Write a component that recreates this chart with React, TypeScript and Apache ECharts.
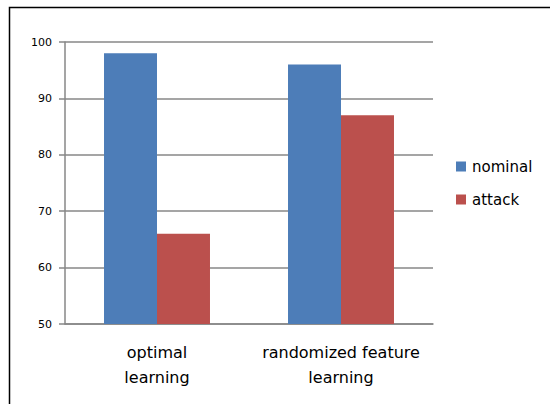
import React, { useEffect, useRef } from "react";
import * as echarts from "echarts";

const categories = ["optimal\nlearning", "randomized feature\nlearning"];
const nominal = [98, 96];
const attack = [66, 87];
const seriesNames = ["nominal", "attack"];

export default function App() {
  const ref = useRef<HTMLDivElement>(null);
  useEffect(() => {
    if (!ref.current) return;
    const chart = echarts.init(ref.current, null, { renderer: "svg" });
    const gray = "#878787";
    chart.setOption({
      animation: false,
      backgroundColor: "#ffffff",
      graphic: [
        {
          type: "rect",
          shape: { x: 9.5, y: 7.5, width: 700, height: 600 },
          style: { fill: "none", stroke: "#000", lineWidth: 1.5 },
          silent: true,
        },
      ],
      grid: { left: 65, right: 117, top: 42, bottom: 80 },
      legend: {
        orient: "vertical",
        left: 451,
        top: 154,
        itemWidth: 10,
        itemHeight: 10,
        itemGap: 18,
        icon: "rect",
        textStyle: { fontFamily: "DejaVu Sans", fontSize: 15, color: "#000", padding: [0, 0, 0, 1] },
        data: seriesNames,
      },
      xAxis: {
        type: "category",
        data: categories,
        axisLine: { lineStyle: { color: gray, width: 1.5 } },
        axisTick: { show: false },
        axisLabel: {
          interval: 0,
          margin: 16,
          fontFamily: "DejaVu Sans",
          fontSize: 16,
          lineHeight: 25,
          color: "#000",
        },
      },
      yAxis: {
        type: "value",
        min: 50,
        max: 100,
        interval: 10,
        axisLine: { show: true, lineStyle: { color: gray, width: 1.5 } },
        axisTick: { show: true, length: 6, lineStyle: { color: gray, width: 1.5 } },
        splitLine: { lineStyle: { color: gray, width: 1.5 } },
        axisLabel: { fontFamily: "DejaVu Sans", fontSize: 11, color: "#000", margin: 13 },
      },
      series: [
        {
          name: seriesNames[0],
          type: "bar",
          data: nominal,
          itemStyle: { color: "#4d7db8" },
          barGap: "0%",
          barCategoryGap: "42.4%",
        },
        {
          name: seriesNames[1],
          type: "bar",
          data: attack,
          itemStyle: { color: "#bb504d" },
          barGap: "0%",
          barCategoryGap: "42.4%",
        },
      ],
    });
    return () => chart.dispose();
  }, []);
  return (
    <div
      ref={ref}
      style={{ position: "fixed", left: 0, top: 0, width: 550, height: 404 }}
    />
  );
}
